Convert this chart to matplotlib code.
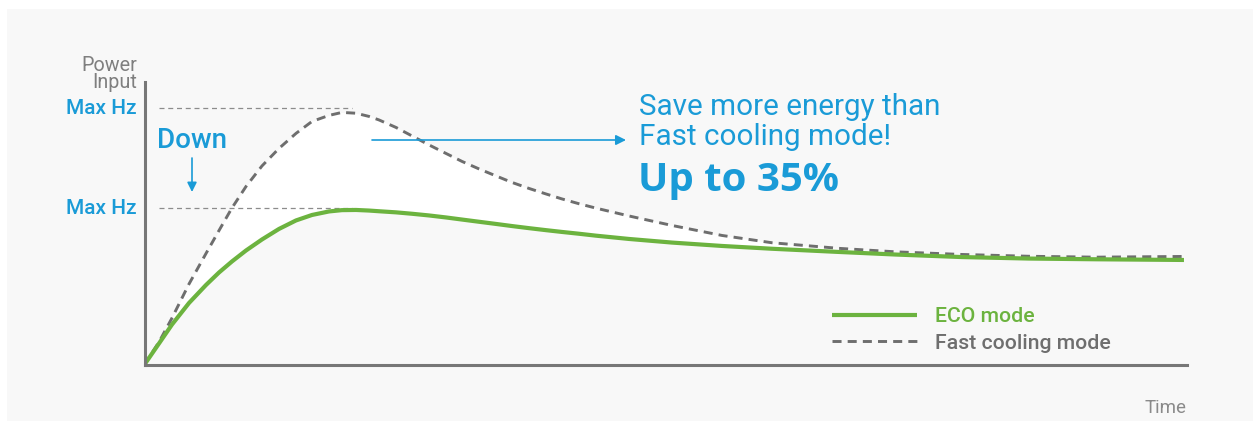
import matplotlib
matplotlib.use("Agg")
import matplotlib.pyplot as plt
from matplotlib.patches import Rectangle

# region DATA
# time axis (0-100) and power input (Max Hz of fast cooling = 100)
time = [0, 1.39, 2.64, 4.27, 5.90, 7.15, 8.39, 9.74, 11.27, 12.90, 14.53,
        16.07, 17.70, 18.94, 20.29, 21.53, 22.49, 24.12, 25.66, 27.29, 28.92,
        30.46, 32.09, 33.72, 35.25, 36.88, 38.51, 40.05, 41.68, 43.31, 46.47,
        50.60, 55.40, 60.19, 66.62, 72.09, 78.42, 84.84, 91.27, 99.71]
fast_cooling = [0, 8.77, 18.13, 31.38, 43.27, 52.24, 61.01, 69.40, 77.39,
                84.21, 90.06, 94.74, 97.08, 98.25, 97.93, 96.69, 95.32, 92.40,
                89.08, 85.58, 82.26, 79.14, 76.22, 73.49, 70.96, 68.62, 66.47,
                64.52, 62.65, 60.94, 57.89, 54.19, 50.29, 47.45, 45.26, 43.90,
                42.88, 42.18, 41.83, 42.11]
eco_mode = [0, 8.19, 15.59, 23.98, 30.99, 35.87, 40.16, 44.44, 48.73, 52.83,
            56.14, 58.28, 59.65, 60.16, 60.23, 60.00, 59.73, 59.30, 58.75,
            58.09, 57.31, 56.49, 55.63, 54.78, 53.96, 53.14, 52.36, 51.66,
            50.96, 50.21, 48.93, 47.52, 46.20, 45.11, 43.86, 42.85, 41.87,
            41.29, 41.01, 40.74]
max_hz_levels = [100, 61]
max_hz_span = [1.39, 19.9]
series_labels = ["ECO mode", "Fast cooling mode"]
# endregion

BLUE = "#1a9bd7"
GREEN = "#6cb33f"
GREY = "#6e6e6e"
AXIS = "#777777"
PANEL = "#f8f8f8"

plt.rcParams['font.family'] = ['Roboto', 'DejaVu Sans']

W, H = 1253, 421
fig = plt.figure(figsize=(W / 100, H / 100), dpi=100, facecolor="white")


def px(x, y):
    # pixel position (from top-left) -> figure fraction
    return x / W, 1 - y / H


# light grey panel
fig.patches.append(Rectangle(px(7, 421), (W - 7) / W, (421 - 9) / H,
                             transform=fig.transFigure, facecolor=PANEL,
                             edgecolor="none", zorder=-5))

ax = fig.add_axes([144.5 / W, (H - 364.5) / H, 1042.5 / W, 282.5 / H])
ax.set_zorder(1)
ax.set_facecolor("none")
ax.set_xlim(0, 100)
ax.set_ylim(0, 110.1)
for s in ["top", "right"]:
    ax.spines[s].set_visible(False)
for s in ["left", "bottom"]:
    ax.spines[s].set_color(AXIS)
    ax.spines[s].set_linewidth(2.2)
    ax.spines[s].set_zorder(5)
ax.set_xticks([])
ax.set_yticks([])

# area saved
ax.fill_between(time, eco_mode, fast_cooling, color="white", lw=0, zorder=1)

# Max Hz guides
for lvl in max_hz_levels:
    ax.plot(max_hz_span, [lvl, lvl], color="#8c8c8c", lw=0.9,
            dashes=(4, 3), zorder=2)

eco_line, = ax.plot(time, eco_mode, color=GREEN, lw=3.0,
                    solid_capstyle="butt", solid_joinstyle="round", zorder=4)
fast_line, = ax.plot(time, fast_cooling, color=GREY, lw=2.1,
                     dashes=(3.1, 2.1), zorder=3)

# axis captions
fig.text(*px(137, 74), "Power\nInput", ha="right", va="center",
         multialignment="right", fontsize=14.2, color="#7f7f7f",
         linespacing=0.82)
fig.text(*px(1187, 408), "Time", ha="right", va="center", fontsize=13.5,
         color="#8a8a8a")
for yy in [108, 208]:
    fig.text(*px(137, yy + 1), "Max Hz", ha="right", va="center",
             fontsize=15, color=BLUE, weight="medium")

# Down annotation
fig.text(*px(157, 140), "Down", ha="left", va="center", fontsize=20,
         color=BLUE, weight="medium")
ax.annotate("", xy=px(192, 192), xytext=px(192, 158),
            xycoords="figure fraction", textcoords="figure fraction",
            arrowprops=dict(arrowstyle="-|>", color=BLUE, lw=1.2,
                            mutation_scale=14, shrinkA=0, shrinkB=0))

# callout
ax.annotate("", xy=px(626, 140), xytext=px(372, 140),
            xycoords="figure fraction", textcoords="figure fraction",
            arrowprops=dict(arrowstyle="-|>", color=BLUE, lw=1.2,
                            mutation_scale=15, shrinkA=0, shrinkB=0))
fig.text(*px(639, 122), "Save more energy than\nFast cooling mode!",
         ha="left", va="center", fontsize=21.3, color=BLUE,
         linespacing=1.12)
fig.text(*px(638, 180), "Up to 35%", ha="left", va="center", fontsize=29,
         color=BLUE, weight="bold", family=["Open Sans", "DejaVu Sans"])

# legend
leg = ax.legend([eco_line, fast_line], series_labels, loc="upper left",
                bbox_to_anchor=px(832, 307), bbox_transform=fig.transFigure,
                frameon=False, fontsize=15.3, handlelength=4.0,
                handletextpad=0.85, labelspacing=0.36, borderpad=0,
                borderaxespad=0)
for txt, col in zip(leg.get_texts(), [GREEN, GREY]):
    txt.set_color(col)
    txt.set_fontweight("medium")

plt.savefig("out.png", dpi=100, facecolor="white")
